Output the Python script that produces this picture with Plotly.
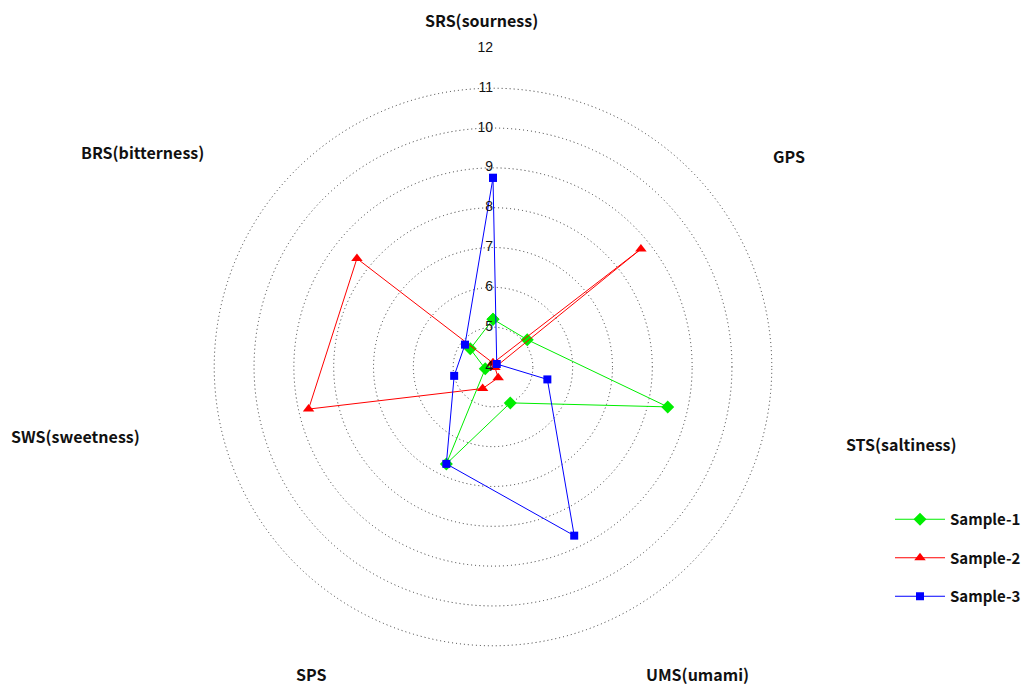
import plotly.graph_objects as go

# Taste-sensor attributes, clockwise from the top
categories = ["SRS(sourness)", "GPS", "STS(saltiness)", "UMS(umami)",
              "SPS", "SWS(sweetness)", "BRS(bitterness)"]

sample_1 = [5.2, 5.1, 8.5, 5.0, 6.7, 4.2, 4.73]
sample_2 = [4.1, 8.75, 4.05, 4.3, 4.6, 8.75, 8.37]
sample_3 = [8.75, 4.12, 5.4, 8.7, 6.7, 5.0, 4.9]

radial_ticks = [4, 5, 6, 7, 8, 9, 10, 11, 12]
radial_range = [4, 12.01]

W, H = 1028, 686
cx, cy, rad = 493, 367, 319  # plot centre and radius in pixels

label_font = dict(family="Noto Sans CJK KR", size=16, color="#111111")

series = [
    ("Sample-1", sample_1, "#00EE00", "diamond", 10),
    ("Sample-2", sample_2, "#FF0000", "triangle-up", 10),
    ("Sample-3", sample_3, "#0000FF", "square", 8),
]

fig = go.Figure()
for name, vals, color, symbol, size in series:
    fig.add_trace(go.Scatterpolar(
        r=vals + vals[:1],
        theta=categories + categories[:1],
        mode="lines+markers",
        name=name,
        legendgroup=name,
        line=dict(color=color, width=1),
        marker=dict(color=color, symbol=symbol, size=size),
        cliponaxis=False,
    ))

# Radial tick values written along the vertical axis
fig.add_trace(go.Scatterpolar(
    r=radial_ticks,
    theta=[categories[0]] * len(radial_ticks),
    mode="text",
    text=[str(v) for v in radial_ticks],
    textposition="middle left",
    textfont=dict(family="Liberation Sans", size=14, color="#111111"),
    showlegend=False,
    hoverinfo="skip",
    cliponaxis=False,
))

# Category names placed around the outside of the rings
label_pos = [(481, 20), (789, 156), (901, 444), (697, 674),
             (311, 674), (75, 436), (142, 152)]
annotations = []
for name, (px, py) in zip(categories, label_pos):
    annotations.append(dict(
        text=f"<b>{name}</b>", x=px / W, y=1 - py / H,
        xref="paper", yref="paper", showarrow=False,
        xanchor="center", yanchor="middle", font=label_font,
    ))

fig.update_layout(
    width=W, height=H,
    margin=dict(l=0, r=0, t=0, b=0),
    paper_bgcolor="white",
    plot_bgcolor="white",
    annotations=annotations,
    polar=dict(
        domain=dict(x=[(cx - rad) / W, (cx + rad) / W],
                    y=[1 - (cy + rad) / H, 1 - (cy - rad) / H]),
        bgcolor="white",
        radialaxis=dict(
            range=radial_range,
            tickvals=radial_ticks[1:],
            showticklabels=False,
            ticks="",
            showline=False,
            gridcolor="#333333",
            griddash="1px,3px",
            gridwidth=1,
        ),
        angularaxis=dict(
            direction="clockwise",
            rotation=90,
            showgrid=False,
            showline=False,
            showticklabels=False,
            ticks="",
        ),
    ),
    legend=dict(
        x=890 / W, y=1 - 503 / H, xanchor="left", yanchor="top",
        itemwidth=50,
        tracegroupgap=16,
        font=dict(family="Noto Sans CJK KR", size=15, color="#111111", weight="bold"),
        bgcolor="rgba(0,0,0,0)",
    ),
    showlegend=True,
)

fig.write_html("out.html")
